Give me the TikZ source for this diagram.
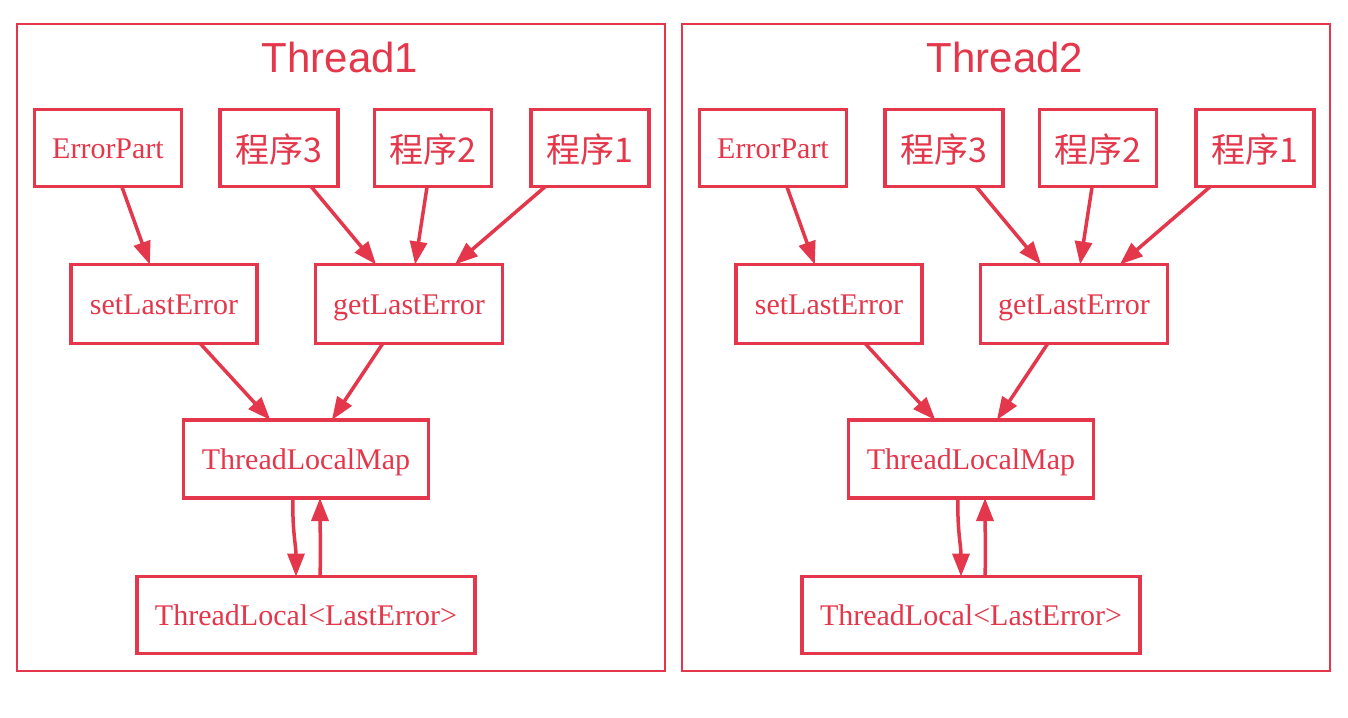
\documentclass[tikz,border=0pt]{standalone}
\usepackage{fontspec}
\setmainfont{Liberation Serif}
\newfontfamily\titlefont{Liberation Sans}
\newfontfamily\cjk{Noto Sans CJK SC}
\usetikzlibrary{arrows.meta}
\definecolor{dred}{RGB}{228,55,75}
\tikzset{
  box/.style={draw=dred, line width=3.5pt, text=dred, inner sep=0pt, outer sep=0pt,
    font=\fontsize{30}{32}\selectfont, text height=23pt, text depth=3pt},
  cjkbox/.style={box, font=\cjk\fontsize{34}{36}\selectfont, text height=30pt, text depth=2pt},
  frame/.style={draw=dred, line width=2pt},
  ttl/.style={text=dred, font=\titlefont\fontsize{42}{46}\selectfont},
  link/.style={draw=dred, line width=3.5pt, -{Triangle[length=23pt,width=17pt]}}
}
\begin{document}
\begin{tikzpicture}[x=1pt,y=-1pt]
\fill[white] (0,0) rectangle (1348,717);
\useasboundingbox (0,0) rectangle (1348,717);
\foreach \dx/\n in {0/1, 665/2} {
  \begin{scope}[xshift=\dx pt]
    \draw[frame] (17,24) rectangle (665,671);
    \node[ttl] (title\n) at (340,57) {Thread\n};
    \node[box, minimum width=147pt, minimum height=77pt] (ep\n) at (108,148) {ErrorPart};
    \node[cjkbox, minimum width=118pt, minimum height=77pt] (p3\n) at (279,148) {程序3};
    \node[cjkbox, minimum width=117pt, minimum height=77pt] (p2\n) at (433,148) {程序2};
    \node[cjkbox, minimum width=118pt, minimum height=77pt] (p1\n) at (590,148) {程序1};
    \node[box, minimum width=186pt, minimum height=79pt] (set\n) at (164,304) {setLastError};
    \node[box, minimum width=187pt, minimum height=79pt] (get\n) at (409,304) {getLastError};
    \node[box, minimum width=245pt, minimum height=78pt] (tlm\n) at (306,459) {ThreadLocalMap};
    \node[box, minimum width=338pt, minimum height=77pt] (tl\n) at (306,615) {ThreadLocal<LastError>};
    \draw[link] (ep\n) -- (set\n);
    \draw[link] (p3\n) -- (get\n);
    \draw[link] (p2\n) -- (get\n);
    \draw[link] (p1\n) -- (get\n);
    \draw[link] (set\n) -- (tlm\n);
    \draw[link] (get\n) -- (tlm\n);
    \draw[link] ([xshift=-13pt]tlm\n.south) .. controls ([xshift=-14pt,yshift=-30pt]tlm\n.south) and ([xshift=-10pt,yshift=30pt]tl\n.north) .. ([xshift=-10pt]tl\n.north);
    \draw[link] ([xshift=14pt]tl\n.north) .. controls ([xshift=15pt,yshift=30pt]tl\n.north) and ([xshift=14pt,yshift=-30pt]tlm\n.south) .. ([xshift=14pt]tlm\n.south);
  \end{scope}
}
\end{tikzpicture}
\end{document}
